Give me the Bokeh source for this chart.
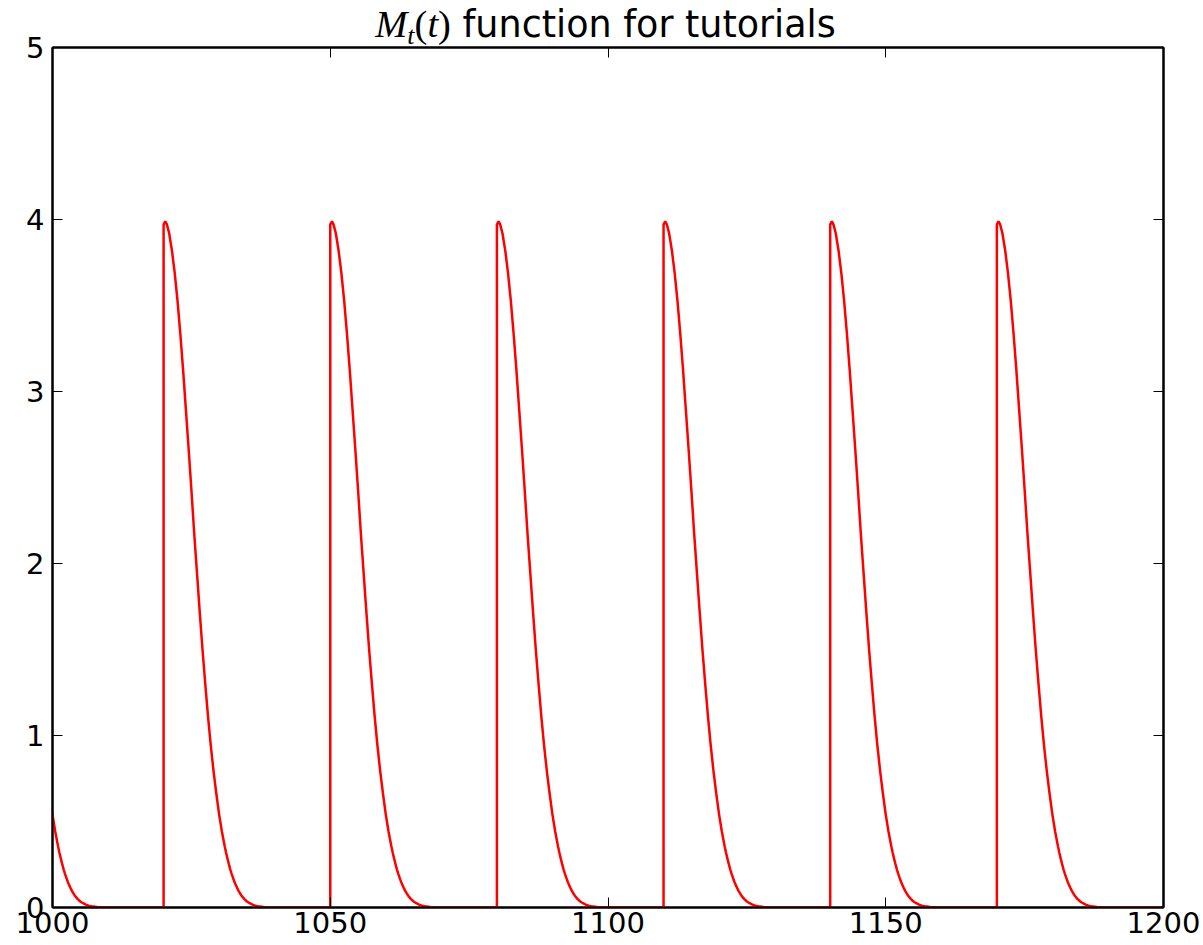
from bokeh.plotting import figure
from bokeh.models import LinearAxis, FixedTicker, Range1d, Div
from bokeh.layouts import column
from bokeh.embed import file_html
from bokeh.resources import INLINE

# ---- data ----
pulse_starts = [990, 1020, 1050, 1080, 1110, 1140, 1170]
profile_offsets = [0, 0, 0.3, 0.6, 1, 1.5, 2, 2.5, 3, 3.5, 4, 4.5, 5, 5.5, 6, 6.5,
                   7, 7.5, 8, 8.5, 9, 9.5, 10, 10.5, 11, 11.25, 11.5, 11.75, 12,
                   12.25, 12.5, 12.75, 13, 13.25, 13.5, 13.75, 14, 14.5, 15, 15.5,
                   16, 16.5, 17, 18, 19, 20]
profile_values = [0, 3.97, 3.99, 3.97, 3.92, 3.82, 3.69, 3.53, 3.34, 3.13, 2.90,
                  2.67, 2.43, 2.18, 1.95, 1.72, 1.50, 1.30, 1.11, 0.94, 0.79, 0.66,
                  0.54, 0.44, 0.356, 0.318, 0.284, 0.252, 0.222, 0.196, 0.172,
                  0.150, 0.130, 0.113, 0.097, 0.083, 0.070, 0.050, 0.035, 0.025,
                  0.017, 0.011, 0.007, 0.003, 0.001, 0.0]
x_end_value = 1200
x_ticks = [1000, 1050, 1100, 1150, 1200]
y_ticks = [0, 1, 2, 3, 4, 5]

xs, ys = [], []
for s in pulse_starts:
    for o, v in zip(profile_offsets, profile_values):
        xs.append(s + o)
        ys.append(v)
xs.append(x_end_value)
ys.append(0.0)

FW, FH = 1111, 860
TITLE_H = 24
p = figure(frame_width=FW, frame_height=FH,
           x_range=Range1d(1000, 1200), y_range=Range1d(0, 5),
           output_backend="svg", toolbar_location=None,
           min_border_left=52, min_border_right=40,
           min_border_top=47 - TITLE_H, min_border_bottom=38,
           background_fill_color="white", border_fill_color=None)
p.grid.visible = False
p.outline_line_color = "black"
p.outline_line_width = 2

p.line(xs, ys, line_color="#ff0000", line_width=2.5)

def style(ax, ticks, labels=True, standoff=8):
    ax.ticker = FixedTicker(ticks=ticks)
    ax.axis_line_color = "black"
    ax.axis_line_width = 2
    ax.major_tick_in = 10
    ax.major_tick_out = 0
    ax.major_tick_line_color = "black"
    ax.major_tick_line_width = 1
    ax.minor_tick_line_color = None
    ax.major_label_standoff = standoff
    if labels:
        ax.major_label_text_font = "DejaVu Sans"
        ax.major_label_text_font_size = "29px"
        ax.major_label_text_color = "black"
    else:
        ax.major_label_text_font_size = "0px"
        ax.major_label_text_color = None

style(p.xaxis[0], x_ticks, standoff=4)
style(p.yaxis[0], y_ticks, standoff=8)
top = LinearAxis()
right = LinearAxis()
style(top, x_ticks, labels=False, standoff=0)
style(right, y_ticks, labels=False, standoff=0)
p.add_layout(top, "above")
p.add_layout(right, "right")

# ---- title: M_t(t) function for tutorials ----
title_html = (
    '<div style="position:relative;width:1203px;height:%dpx;overflow:visible;">'
    '<div style="position:absolute;left:50px;width:%dpx;top:5px;text-align:center;'
    'white-space:nowrap;line-height:1;color:black;font-family:\'DejaVu Sans\';font-size:36.5px;">'
    '<span style="font-family:\'Liberation Serif\';font-style:italic;font-size:38.5px;">M</span>'
    '<span style="font-family:\'Liberation Serif\';font-style:italic;font-size:26px;'
    'position:relative;top:7px;">t</span>'
    '<span style="font-family:\'Liberation Serif\';font-size:38.5px;">(<i>t</i>)</span>'
    '<span> function for tutorials</span>'
    '</div></div>'
) % (TITLE_H, FW)
title = Div(text=title_html, width=1203, height=TITLE_H, margin=(0, 0, 0, 0),
            styles={"overflow": "visible", "z-index": "2"})

layout = column(title, p, spacing=0, styles={"background-color": "white"})
open("out.html", "w").write(file_html(layout, INLINE))
